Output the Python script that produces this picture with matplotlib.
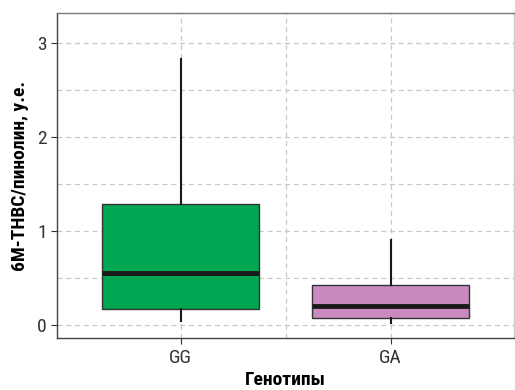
import matplotlib.pyplot as plt
from matplotlib.ticker import MultipleLocator

plt.rcParams['font.family'] = ['Roboto Condensed', 'PT Sans Narrow', 'DejaVu Sans']

# Box statistics
genotypes = ['GG', 'GA']
whislo = [0.04, 0.02]
q1 = [0.17, 0.07]
med = [0.55, 0.20]
q3 = [1.29, 0.43]
whishi = [2.83, 0.90]
colors = ['#00a651', '#c98bbe']

stats = []
for i in range(len(genotypes)):
    stats.append({'label': genotypes[i], 'whislo': whislo[i], 'q1': q1[i], 'med': med[i],
                  'q3': q3[i], 'whishi': whishi[i], 'fliers': []})

fig = plt.figure(figsize=(5.15, 3.9), dpi=100)
ax = fig.add_axes([0.1107, 0.133, 0.888, 0.834])

bp = ax.bxp(stats, positions=[1, 2], widths=0.75, patch_artist=True, showcaps=False,
            boxprops=dict(edgecolor='#333333', linewidth=1.0),
            whiskerprops=dict(color='#1a1a1a', linewidth=1.5),
            medianprops=dict(color='#1a1a1a', linewidth=3.5, solid_capstyle='butt'),
            zorder=3)
for patch, c in zip(bp['boxes'], colors):
    patch.set_facecolor(c)

ax.set_xlim(0.41, 2.59)
ax.set_ylim(-0.14, 3.32)
ax.yaxis.set_major_locator(MultipleLocator(1))
ax.yaxis.set_minor_locator(MultipleLocator(0.5))
ax.set_xticks([1, 2])
ax.set_xticks([1.5], minor=True)
ax.grid(True, which='both', linestyle=(0, (4, 3)), color='#c8c8c8', linewidth=0.9, zorder=0)
ax.set_axisbelow(True)
ax.tick_params(axis='both', which='major', length=4, color='#333333', labelsize=14, labelcolor='#333333')
ax.tick_params(axis='both', which='minor', length=0)
for s in ax.spines.values():
    s.set_color('#444444')
    s.set_linewidth(1.0)
ax.spines['top'].set_color('#777777')
ax.spines['right'].set_color('#cccccc')

ax.set_xlabel('Генотипы', fontsize=14, fontweight='bold', labelpad=3)
ax.set_ylabel('6M-THBC/пинолин, у.е.', fontsize=14, fontweight='bold', labelpad=6)

fig.savefig('out.png', dpi=100)
